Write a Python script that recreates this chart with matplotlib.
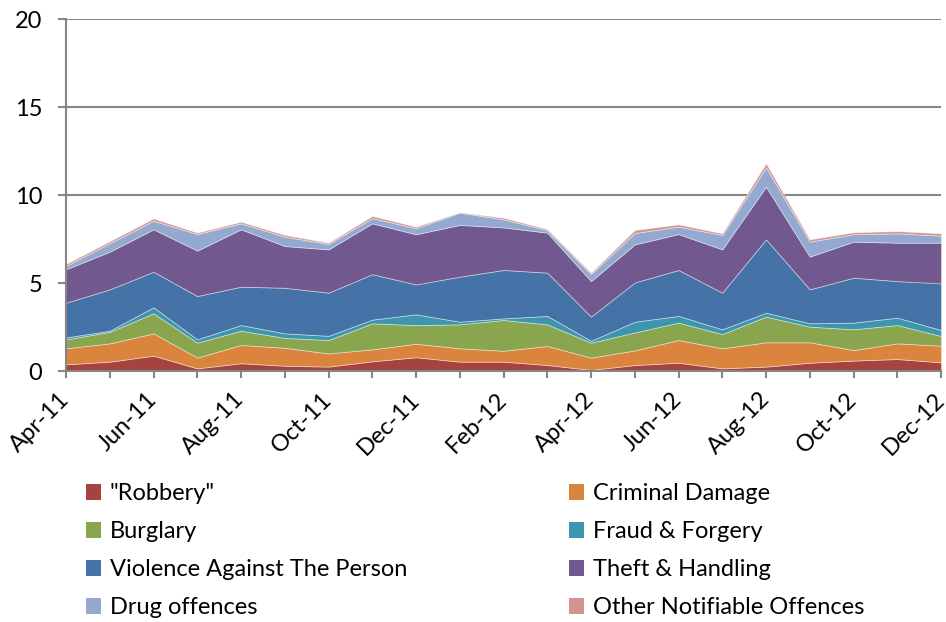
import matplotlib.pyplot as plt
from matplotlib.patches import Patch

plt.rcParams['font.family'] = ['Lato', 'DejaVu Sans']

months = ['Apr-11', 'May-11', 'Jun-11', 'Jul-11', 'Aug-11', 'Sep-11', 'Oct-11',
          'Nov-11', 'Dec-11', 'Jan-12', 'Feb-12', 'Mar-12', 'Apr-12', 'May-12',
          'Jun-12', 'Jul-12', 'Aug-12', 'Sep-12', 'Oct-12', 'Nov-12', 'Dec-12']

robbery = [0.38, 0.53, 0.87, 0.15, 0.44, 0.30, 0.25, 0.55, 0.78, 0.53, 0.53,
           0.34, 0.06, 0.34, 0.47, 0.15, 0.25, 0.47, 0.59, 0.68, 0.49]
criminal_damage = [0.91, 1.04, 1.27, 0.61, 1.04, 1.02, 0.75, 0.68, 0.77, 0.76, 0.62,
                   1.08, 0.70, 0.83, 1.29, 1.14, 1.38, 1.16, 0.60, 0.89, 0.95]
burglary = [0.51, 0.65, 1.14, 0.85, 0.81, 0.56, 0.76, 1.48, 1.06, 1.36, 1.75,
            1.23, 0.85, 1.02, 0.99, 0.81, 1.46, 0.89, 1.18, 1.04, 0.55]
fraud = [0.11, 0.07, 0.34, 0.19, 0.32, 0.26, 0.24, 0.21, 0.61, 0.15, 0.09,
         0.48, 0.11, 0.61, 0.38, 0.27, 0.22, 0.19, 0.38, 0.42, 0.34]
violence = [1.97, 2.35, 2.02, 2.46, 2.18, 2.59, 2.45, 2.58, 1.70, 2.56, 2.75,
            2.46, 1.37, 2.23, 2.61, 2.08, 4.17, 1.93, 2.55, 2.08, 2.65]
theft = [1.90, 2.14, 2.41, 2.58, 3.26, 2.37, 2.46, 2.89, 2.85, 2.94, 2.42,
         2.27, 2.02, 2.16, 2.04, 2.46, 2.99, 1.86, 2.05, 2.18, 2.31]
drugs = [0.19, 0.48, 0.49, 0.94, 0.34, 0.53, 0.31, 0.30, 0.34, 0.70, 0.46,
         0.15, 0.40, 0.65, 0.42, 0.82, 1.10, 0.85, 0.42, 0.53, 0.40]
other = [0.11, 0.11, 0.13, 0.08, 0.09, 0.10, 0.07, 0.12, 0.09, 0.02, 0.09,
         0.06, 0.08, 0.17, 0.13, 0.09, 0.23, 0.13, 0.11, 0.13, 0.13]

names = ['"Robbery"', 'Criminal Damage', 'Burglary', 'Fraud & Forgery',
         'Violence Against The Person', 'Theft & Handling', 'Drug offences',
         'Other Notifiable Offences']
colors = ['#A6423F', '#DB843D', '#89A54E', '#3D96AE',
          '#4572A7', '#71588F', '#93A9CF', '#D39391']

fig = plt.figure(figsize=(9.46, 6.22), dpi=100)
ax = fig.add_axes([66/946, 1-371/622, 875/946, 352/622])

x = list(range(len(months)))
ax.stackplot(x, robbery, criminal_damage, burglary, fraud, violence, theft, drugs, other,
             colors=colors, edgecolor=(1, 1, 1, 0.45), linewidth=0.6, zorder=2)

ax.set_xlim(0, len(months) - 1)
ax.set_ylim(0, 20)
ax.set_yticks([0, 5, 10, 15, 20])
ax.yaxis.grid(True, color='#868686', linewidth=1.5, zorder=0)
ax.set_axisbelow(True)

ax.set_xticks(x)
ax.set_xticklabels([m if i % 2 == 0 else '' for i, m in enumerate(months)],
                   rotation=45, ha='right', va='center', rotation_mode='anchor')

for s in ['top', 'right']:
    ax.spines[s].set_visible(False)
for s in ['left', 'bottom']:
    ax.spines[s].set_color('#868686')
    ax.spines[s].set_linewidth(1.5)
    ax.spines[s].set_zorder(3)

ax.tick_params(axis='y', length=6, width=1.5, color='#868686', labelsize=17, pad=11)
ax.tick_params(axis='x', length=5, width=1.5, color='#868686', labelsize=17, pad=13)

handles = [Patch(facecolor=c) for c in colors]
leg_kw = dict(frameon=False, fontsize=17, handlelength=0.65, handleheight=0.65,
              handletextpad=0.35, labelspacing=0.72, borderaxespad=0, borderpad=0)
left_idx = [0, 2, 4, 6]
right_idx = [1, 3, 5, 7]
leg1 = fig.legend([handles[i] for i in left_idx], [names[i] for i in left_idx],
                  loc='upper left', bbox_to_anchor=(86/946, 1-483/622), **leg_kw)
leg2 = fig.legend([handles[i] for i in right_idx], [names[i] for i in right_idx],
                  loc='upper left', bbox_to_anchor=(569/946, 1-483/622), **leg_kw)

fig.savefig('out.png', dpi=100)
